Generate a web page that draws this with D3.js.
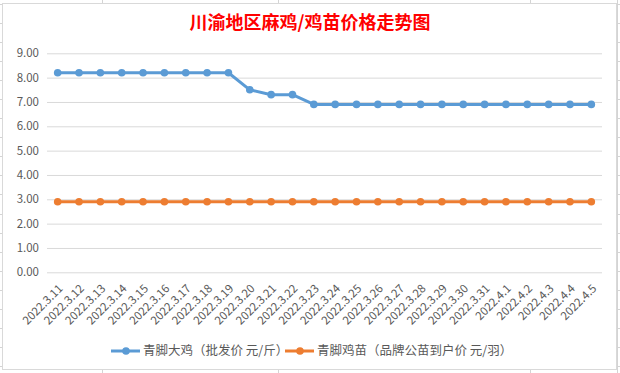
<!DOCTYPE html>
<html>
<head>
<meta charset="utf-8">
<script src="https://cdn.jsdelivr.net/npm/d3@7"></script>
<style>
  body { margin: 0; background: #fff; }
  svg { display: block; }
</style>
</head>
<body>
<svg id="chart" width="620" height="373"></svg>
<script>
// dates on the x axis
const dates = [
  "2022.3.11", "2022.3.12", "2022.3.13", "2022.3.14", "2022.3.15", "2022.3.16",
  "2022.3.17", "2022.3.18", "2022.3.19", "2022.3.20", "2022.3.21", "2022.3.22",
  "2022.3.23", "2022.3.24", "2022.3.25", "2022.3.26", "2022.3.27", "2022.3.28",
  "2022.3.29", "2022.3.30", "2022.3.31", "2022.4.1", "2022.4.2", "2022.4.3",
  "2022.4.4", "2022.4.5"
];
// 青脚大鸡 wholesale price
const bigChicken = [
  8.2, 8.2, 8.2, 8.2, 8.2, 8.2, 8.2, 8.2, 8.2, 7.5, 7.3, 7.3,
  6.9, 6.9, 6.9, 6.9, 6.9, 6.9, 6.9, 6.9, 6.9, 6.9, 6.9, 6.9, 6.9, 6.9
];
// 青脚鸡苗 chick price
const chicks = [
  2.9, 2.9, 2.9, 2.9, 2.9, 2.9, 2.9, 2.9, 2.9, 2.9, 2.9, 2.9, 2.9,
  2.9, 2.9, 2.9, 2.9, 2.9, 2.9, 2.9, 2.9, 2.9, 2.9, 2.9, 2.9, 2.9
];
const yTicks = [0, 1, 2, 3, 4, 5, 6, 7, 8, 9];
const seriesNames = ["青脚大鸡（批发价 元/斤）", "青脚鸡苗（品牌公苗到户价 元/羽）"];
const seriesColors = ["#5b9bd5", "#ed7d31"];

const font = "'Noto Sans CJK SC', 'Noto Sans', sans-serif";
const svg = d3.select("#chart");

// spreadsheet grid peeking round the chart
const sheet = svg.append("g").attr("stroke", "#d4d4d4").attr("stroke-width", 1);
[102, 278, 530, 617].forEach(xv => sheet.append("line")
  .attr("x1", xv + 0.5).attr("x2", xv + 0.5).attr("y1", 0).attr("y2", 373));
for (let yv = 3.5; yv < 373; yv += 19.1) {
  sheet.append("line").attr("x1", 0).attr("x2", 620)
    .attr("y1", Math.round(yv) + 0.5).attr("y2", Math.round(yv) + 0.5);
}

// chart box
svg.append("rect")
  .attr("x", 2.5).attr("y", 3.5)
  .attr("width", 614).attr("height", 366)
  .attr("fill", "#fff")
  .attr("stroke", "#d9d9d9");

// title
svg.append("text")
  .attr("x", 310).attr("y", 29)
  .attr("text-anchor", "middle")
  .attr("fill", "#ff0000")
  .style("font-family", "'Noto Sans CJK SC', serif")
  .style("font-weight", "bold")
  .style("font-size", "18px")
  .text("川渝地区麻鸡/鸡苗价格走势图");

const plotLeft = 47, plotRight = 602, plotTop = 53.3, plotBottom = 272.3;

const x = d3.scaleBand()
  .domain(dates)
  .range([plotLeft, plotRight]);

const y = d3.scaleLinear()
  .domain([0, 9])
  .range([plotBottom, plotTop]);

// horizontal gridlines + y labels
const yAxis = svg.append("g")
  .attr("transform", `translate(${plotLeft},0)`)
  .call(d3.axisLeft(y).tickValues(yTicks).tickFormat(d3.format(".2f"))
    .tickSize(-(plotRight - plotLeft)).tickPadding(8))
  .call(g => g.select(".domain").remove());
yAxis.selectAll(".tick line").attr("stroke", "#d9d9d9");
yAxis.selectAll(".tick text")
  .attr("fill", "#595959")
  .style("font-family", font)
  .style("font-size", "11.5px");

// x labels, rotated
const xAxis = svg.append("g")
  .attr("transform", `translate(0,${plotBottom})`)
  .call(d3.axisBottom(x).tickSize(0).tickPadding(0))
  .call(g => g.select(".domain").remove());
xAxis.selectAll(".tick text")
  .attr("fill", "#595959")
  .style("font-family", font)
  .style("font-size", "11.5px")
  .attr("text-anchor", "end")
  .attr("dy", "0.35em")
  .attr("transform", "translate(3,14) rotate(-45)");

const cx = d => x(d) + x.bandwidth() / 2;

[bigChicken, chicks].forEach((vals, k) => {
  const line = d3.line()
    .x((d, i) => cx(dates[i]))
    .y(d => y(d));
  svg.append("path")
    .datum(vals)
    .attr("fill", "none")
    .attr("stroke", seriesColors[k])
    .attr("stroke-width", 3)
    .attr("stroke-linejoin", "round")
    .attr("d", line);
  svg.append("g")
    .selectAll("circle")
    .data(vals)
    .join("circle")
    .attr("cx", (d, i) => cx(dates[i]))
    .attr("cy", d => y(d))
    .attr("r", 3.8)
    .attr("fill", seriesColors[k]);
});

// legend
const legendX = [111, 285];
const legend = svg.append("g");
seriesNames.forEach((name, k) => {
  const g = legend.append("g").attr("transform", `translate(${legendX[k]},351)`);
  g.append("line")
    .attr("x1", 0).attr("x2", 29)
    .attr("stroke", seriesColors[k]).attr("stroke-width", 3);
  g.append("circle").attr("cx", 15).attr("r", 3.8).attr("fill", seriesColors[k]);
  g.append("text")
    .attr("x", 32).attr("dy", "0.35em")
    .attr("fill", "#595959")
    .style("font-family", font)
    .style("font-size", "12.5px")
    .text(name);
});
</script>
</body>
</html>
